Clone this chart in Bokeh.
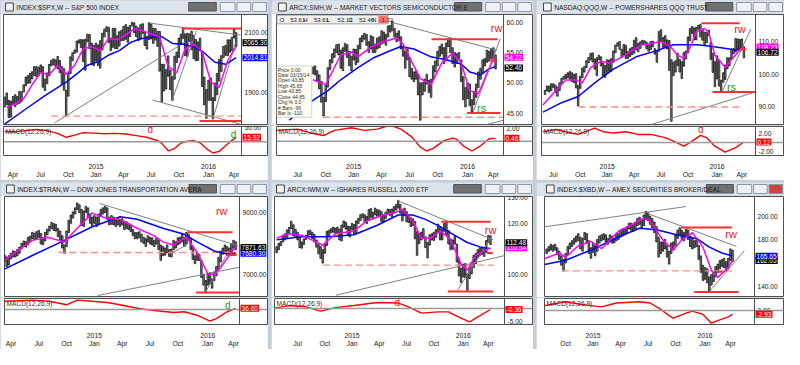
import pandas as pd
from bokeh.plotting import figure
from bokeh.layouts import column, row
from bokeh.models import Range1d, FixedTicker, Label, Span
from bokeh.core.properties import value
from bokeh.embed import file_html
from bokeh.resources import INLINE

FONT = "Liberation Sans"
BAR0 = pd.Timestamp("2014-03-28")   # date of weekly bar number 0

# ---------------- S&P 500 ($SPX) ----------------
spx_first = 0
spx_high = [1883,1897,1872,1869,1885,1891,1885,1902,1901,1924,
            1950,1955,1963,1968,1985,1985,1983,1991,1985,1943,
            1964,1993,2006,2011,2008,2019,2006,1985,1978,1906,
            1965,2018,2032,2041,2071,2075,2076,2075,2077,2094,
            2093,2064,2056,2064,2058,2072,2097,2111,2119,2117,
            2081,2114,2114,2089,2102,2107,2120,2126,2117,2123,
            2134,2132,2121,2115,2126,2129,2102,2086,2132,2128,
            2114,2113,2103,2103,1993,1993,1975,2021,1973,1951,
            2020,2034,2081,2094,2116,2095,2097,2095,2104,2090,
            2076,2068,2081,2038,1950,1908,1940,1947,1881,1930,
            1962,2009,2022,2053,2056,2075,2075,2084,2111,2099]
spx_low = [1850,1858,1814,1816,1858,1851,1859,1862,1868,1900,
           1921,1929,1930,1944,1955,1952,1955,1966,1916,1905,
           1928,1954,1988,1991,1985,1978,1965,1926,1906,1821,
           1886,1962,2005,2030,2034,2064,2049,2002,1973,2069,
           2046,1992,1988,2004,1989,1980,2041,2085,2103,2066,
           2039,2050,2046,2045,2054,2072,2073,2077,2067,2086,
           2122,2099,2085,2072,2077,2097,2056,2044,2076,2078,
           2063,2074,2053,1970,1867,1903,1910,1953,1908,1872,
           1943,1999,2016,2062,2080,2022,2019,2070,2042,2012,
           2005,2006,2043,1918,1857,1812,1872,1872,1810,1871,
           1891,1937,1969,2015,2023,2022,2033,2038,2081,2053]
spx_fast_wk = [1,5,9,13,17,21,25,29,33,37,41,45,49,53,57,61,65,69,73,77,81,85,89,93,97,101,105,109]
spx_fast = [1848,1860,1878,1925,1965,1958,1990,1960,1990,2045,2052,2038,2080,2075,2092,2112,2106,
            2095,2085,1985,1965,2045,2060,2035,1935,1915,2005,2052]
spx_slow_wk = [0,9,19,29,34,39,44,49,54,59,64,69,74,79,84,89,94,99,104,109]
spx_slow = [1792,1838,1888,1933,1961,1990,2002,2024,2039,2065,2079,2084,2086,2063,2060,2052,2031,2000,1993,2015]
spx_macd_wk = [0,5,10,15,20,25,29,33,37,42,47,52,57,62,67,72,74,77,80,83,86,89,92,95,98,101,104,107,109]
spx_macd = [37,36,40,44,40,30,16,24,33,31,29,30,28,22,16,4,-6,-33,-25,-5,2,4,-4,-25,-41,-35,-15,5,15.92]
spx_close, spx_slow_last, spx_macd_last = 2065.30, 2014.81, 15.92
spx_gray = [(23.5,1796,85,2068),(68.5,2131,111,2091),(69.6,1873,111,1792),(78.8,1871,90.3,2105),(98,1808,108.7,2066)]
spx_red = [(83.4,2113,111.5,2113),(91.7,1803,111.5,1803)]
spx_dash = [(22,1819,111.5,1819)]
spx_marks = []
spx_macd_marks = [(68.6,44,"d","#e81818"),(107.8,27,"d","#10a010")]

# ---------------- Semiconductor ETF (SMH) ----------------
smh_first = 13
smh_high = [50.5,51.0,50.8,51.6,51.5,50.8,49.6,50.6,51.2,51.6,
            52.4,52.6,52.8,52.0,51.3,50.2,47.6,49.6,52.5,53.8,
            54.8,55.6,56.3,56.4,55.4,55.8,56.5,56.3,55.2,54.4,
            55.6,55.5,56.2,57.4,57.8,58.2,58.0,56.8,57.8,57.6,
            56.4,57.4,57.6,58.6,58.4,58.0,59.4,59.5,60.2,59.0,
            58.2,58.6,57.6,56.0,55.2,55.6,54.2,52.4,51.8,52.0,
            51.4,50.0,50.0,50.6,51.4,50.4,50.6,52.8,53.6,55.2,
            56.0,56.4,55.8,56.6,57.2,57.4,55.8,55.0,54.8,55.0,
            53.8,51.0,49.2,50.0,49.8,47.2,48.6,49.8,51.8,52.4,
            53.8,54.0,55.4,55.2,55.6,55.8,54.6]
smh_low = [49.2,49.8,49.6,49.8,50.2,48.9,48.4,49.2,50.2,50.8,
           51.2,51.5,51.3,50.2,49.0,46.8,44.5,46.9,49.3,52.2,
           53.3,54.2,55.0,54.6,52.4,52.0,55.2,54.2,52.8,52.0,
           53.8,53.0,53.4,55.6,56.8,57.2,56.2,55.0,55.6,55.0,
           55.0,55.6,55.8,56.4,56.6,56.2,57.6,58.4,58.6,57.6,
           56.8,57.0,55.6,54.4,52.4,53.8,51.0,50.6,50.2,50.6,
           48.0,43.8,48.0,48.6,49.8,48.4,47.6,50.4,51.8,52.8,
           54.4,54.8,53.2,53.6,56.0,55.0,53.2,52.6,53.2,54.0,
           50.2,47.2,46.0,47.4,46.2,45.0,46.4,47.6,49.2,50.6,
           51.6,52.8,53.4,53.6,54.0,53.8,52.3]
smh_fast_wk = [24,30,37,42,45,51,56,63,66,70,74,79,84,89,93,97,101,104,107,109]
smh_fast = [50.5,49.7,54.6,55.1,54.3,55.9,56.7,57.4,56.4,53.5,50.7,49.7,53.3,54.9,53.3,48.7,48.2,50.7,53.2,54.22]
smh_slow_wk = [13,24,31,37,45,52,60,65,71,79,86,93,97,102,106,109]
smh_slow = [43.8,47.1,48.7,50.5,52.5,54.1,55.3,56.0,55.6,54.3,53.8,53.1,51.8,51.3,52.3,52.7]
smh_macd_wk = [7,17,23,29,34,42,48,54,60,65,70,74,77,80,85,89,91,94,98,102,106,109]
smh_macd = [1.7,1.9,1.3,0.9,1.7,2.1,1.7,1.9,2.5,1.9,0.7,-0.9,-1.5,-1.1,0.1,0.5,0.3,-0.7,-1.5,-0.7,0.4,0.46]
smh_close, smh_fast_last, smh_macd_last = 52.46, 54.22, 0.46
smh_gray = [(61.8,59.9,109.6,55.4),(98.5,45.1,111.2,57.3),(104,43.0,112.7,43.8)]
smh_red = [(79.2,57.2,110,57.2),(95.7,45.0,111.3,45.0),(106,53.7,109.6,53.7)]
smh_dash = [(28.6,44.3,112.7,44.3)]
smh_marks = [(109.5,59.1,"rw","#e81818"),(102.5,45.9,"rs","#10a010")]
smh_macd_marks = []

# ---------------- Nasdaq 100 (QQQ) ----------------
qqq_first = 13
qqq_high = [95.0,96.3,96.3,97.0,97.0,96.6,96.0,97.3,98.7,99.3,
            99.9,100.4,100.8,100.4,99.9,100.1,96.5,99.3,101.8,102.3,
            104.1,105.1,106.4,106.5,104.6,105.0,105.8,105.3,103.4,102.6,
            104.4,104.3,104.7,107.1,108.9,109.6,110.0,107.6,109.1,108.8,
            106.9,107.8,108.2,110.4,111.2,109.4,109.9,110.4,110.2,109.8,
            108.9,110.0,110.1,107.8,107.3,113.1,113.6,111.2,111.8,110.5,
            110.3,104.4,103.6,104.1,106.4,104.5,103.8,106.6,107.1,111.4,
            114.0,114.6,114.2,114.3,115.0,115.2,113.8,112.9,112.7,113.5,
            109.7,106.4,103.8,105.6,104.2,98.1,100.4,102.8,105.0,105.0,
            107.7,107.8,110.9,110.8,110.6,110.8,108.4]
qqq_low = [93.7,94.8,94.5,94.9,95.9,94.3,93.2,94.9,97.2,98.4,
           98.5,98.9,98.5,97.7,97.4,95.7,90.2,95.6,98.9,100.6,
           102.0,103.5,104.4,103.7,101.5,99.5,104.4,102.5,99.4,99.0,
           100.5,100.9,100.9,103.6,106.6,108.6,107.6,105.1,105.9,104.8,
           104.8,105.4,105.9,106.4,107.4,106.9,107.9,109.1,109.0,107.8,
           107.0,107.5,108.4,106.1,103.6,107.0,110.2,108.2,108.3,107.7,
           101.1,85.5,99.5,100.6,102.5,100.6,98.6,102.4,104.6,106.5,
           110.2,112.5,110.5,110.5,113.8,111.4,110.4,108.9,109.6,111.8,
           104.5,100.5,96.1,98.5,96.3,94.6,97.5,98.3,101.6,102.5,
           104.6,106.2,106.8,107.7,107.7,107.6,105.0]
qqq_fast_wk = [12,17,23,28,31,35,40,44,49,55,60,65,69,74,77,80,83,86,90,92,95,100,103,107,109]
qqq_fast = [90.5,94.0,98.2,98.2,97.3,102.0,103.9,103.4,104.8,107.2,109.0,109.5,110.0,108.1,105.8,104.8,
            108.1,113.0,114.0,112.8,105.8,102.0,104.4,107.4,108.23]
qqq_slow_wk = [12,21,29,37,46,57,67,75,86,92,98,105,109]
qqq_slow = [88.3,91.2,93.1,97.3,101.5,105.3,107.2,109.0,109.0,108.6,108.1,107.4,107.6]
qqq_macd_wk = [12,18,23,29,37,41,46,52,58,64,71,75,80,83,88,91,95,100,105,109]
qqq_macd = [2.4,2.9,2.4,1.8,3.2,2.4,2.1,2.4,1.8,1.8,1.1,0.3,-0.8,0.0,1.6,1.1,-0.8,-2.1,-1.1,0.12]
qqq_close, qqq_fast_last, qqq_macd_last = 106.72, 108.23, 0.12
qqq_gray = [(63.9,84.4,114.6,94.5),(98.4,94.5,112.3,113.8)]
qqq_red = [(88.4,115.6,106.9,115.6),(93.8,94.5,114.6,94.5),(107.1,107.6,110.2,107.6)]
qqq_dash = [(29.1,89.9,108.4,89.9)]
qqq_marks = [(107.1,113.8,"rw","#e81818"),(103,96,"rs","#10a010")]
qqq_macd_marks = [(88.2,2.9,"d","#e81818")]

# ---------------- Dow Jones Transportation ($TRAN) ----------------
tran_first = 1
tran_high = [7620,7560,7600,7680,7760,7740,7800,7880,8000,8080,
             8050,8200,8230,8360,8330,8380,8420,8320,8180,8360,
             8460,8560,8680,8640,8620,8480,8400,8250,7950,8400,
             8750,8920,9020,9150,9310,9250,9100,9050,9200,9150,
             8950,8850,8900,8850,8950,9100,9150,9200,9150,8850,
             8900,8850,8750,8820,8760,8800,8720,8700,8650,8600,
             8450,8350,8350,8380,8300,8200,8150,8250,8200,8180,
             8100,8180,8100,7950,7900,7850,7950,7800,7820,8100,
             8050,8180,8200,8300,8200,8350,8300,8180,7900,7600,
             7680,7650,7450,7000,6800,7000,7050,6850,7080,7250,
             7550,7750,7850,7950,7900,7850,7980,8100,8050]
tran_low = [7420,7250,7300,7500,7560,7560,7600,7680,7820,7900,
            7880,7950,8060,8150,8120,8150,8200,7980,7960,8080,
            8280,8400,8480,8420,8400,8220,8100,7850,7680,7900,
            8350,8650,8820,8950,9100,9000,8580,8550,9000,8850,
            8650,8550,8650,8550,8600,8900,8950,9000,8780,8600,
            8620,8600,8550,8600,8550,8600,8450,8480,8450,8380,
            8250,8150,8150,8180,8050,8000,7900,8050,7980,7950,
            7900,7980,7800,7450,7600,7620,7700,7580,7560,7800,
            7850,7950,8000,8050,7900,7980,8100,7800,7480,7350,
            7450,7450,6900,6650,6400,6650,6700,6550,6800,6950,
            7150,7400,7650,7700,7650,7600,7680,7850,7800]
tran_fast_wk = [1,14,21,29,35,42,48,55,63,71,75,80,86,91,96,99,102,106,109]
tran_fast = [7460,8098,8200,8050,8490,8980,8830,8780,8490,8245,8050,7950,8200,7706,7020,7000,7215,7608,7900]
tran_slow_wk = [1,14,29,42,55,63,75,85,91,99,105,109]
tran_slow = [7167,7608,8098,8539,8863,8784,8490,8294,8049,7755,7657,7680]
tran_macd_wk = [1,14,22,30,35,42,49,55,63,71,80,85,91,97,100,105,109]
tran_macd = [280,320,280,160,320,280,240,160,40,-40,-104,-80,-200,-400,-320,-80,36.6]
tran_close, tran_slow_last, tran_macd_last = 7871.63, 7680.30, 36.60
tran_gray = [(45.4,9294,110.2,7922),(44.6,6314,110.8,7230),(94.8,6412,106.3,7804),(79.4,7706,86.3,7951)]
tran_red = [(86.3,8363,107.6,8363),(90.5,6412,110.5,6412),(104.8,7627,109.5,7627)]
tran_dash = [(26.1,7706,109.5,7706)]
tran_marks = [(102.5,9038,"rw","#e81818")]
tran_macd_marks = [(105.3,128,"d","#10a010")]

# ---------------- Russell 2000 ETF (IWM) ----------------
iwm_first = 7
iwm_high = [111.0,112.2,113.0,115.5,116.0,117.5,118.5,120.9,119.5,117.8,
            116.6,114.6,112.8,114.0,115.4,117.2,117.4,116.6,115.8,113.6,
            111.8,111.0,109.8,112.0,117.0,117.4,118.0,118.6,118.2,118.6,
            117.8,119.4,121.0,120.5,119.0,118.8,120.0,119.6,121.0,122.0,
            123.4,123.8,123.4,122.8,125.4,125.8,124.4,126.0,125.4,125.2,
            124.6,123.4,124.4,125.6,125.4,125.6,126.6,127.4,129.0,127.4,
            125.4,126.0,124.6,123.2,122.2,121.8,120.8,116.8,116.0,116.6,
            118.0,114.8,112.6,115.6,116.0,116.6,117.6,119.8,118.4,117.8,
            120.0,120.6,117.2,114.0,113.6,115.0,112.0,106.4,102.6,104.2,
            104.4,100.4,102.6,104.8,107.6,108.4,109.8,110.6,110.8,110.6,
            113.4,115.3,115.2]
iwm_low = [108.6,109.8,111.4,112.8,113.6,114.6,116.2,118.0,115.2,114.6,
           113.6,110.6,110.4,111.8,113.8,115.2,115.6,114.2,112.8,110.8,
           108.2,106.4,104.6,108.4,111.4,115.0,116.4,116.6,116.0,116.2,
           113.6,113.2,118.6,117.8,115.2,114.8,117.6,115.8,116.4,120.0,
           121.2,122.2,120.6,120.0,121.4,122.4,122.0,123.4,122.8,122.6,
           120.8,120.6,122.0,123.8,123.2,122.6,124.0,125.2,126.0,124.0,
           121.0,123.0,120.6,120.4,118.8,119.2,114.0,107.6,112.2,113.6,
           114.6,110.6,106.6,111.6,113.6,113.4,114.6,116.6,113.6,113.6,
           117.0,115.6,112.0,109.8,110.0,112.0,105.0,99.6,97.0,99.2,
           99.0,94.0,98.6,100.4,102.8,104.4,106.8,107.6,108.0,107.2,
           108.8,112.6,111.8]
iwm_fast_wk = [7,13,19,25,29,35,44,50,58,64,67,72,76,81,85,90,95,98,102,107,109]
iwm_fast = [114.3,116.0,115.4,113.2,111.5,116.0,117.1,121.0,123.3,124.4,125.5,121.0,114.3,114.5,117.1,
            113.7,104.2,101.9,107.6,109.8,110.54]
iwm_slow_wk = [7,19,32,44,55,65,72,78,85,92,98,104,109]
iwm_slow = [113.7,114.8,114.8,115.6,119.3,123.3,123.3,121.6,118.8,115.4,112.6,110.9,110.2]
iwm_macd_wk = [6,13,21,28,35,44,55,65,70,76,84,89,95,99,102,109]
iwm_macd = [0.2,1.2,0.7,-1.0,0.4,1.2,2.4,2.2,0.7,-1.8,-1.3,-1.3,-3.8,-5.3,-3.8,-0.36]
iwm_close, iwm_fast_last, iwm_macd_last = 112.48, 110.54, -0.36
iwm_gray = [(64.6,128.9,110.2,113.7),(35.3,92.1,115.7,107.5),(93.2,93.9,109.6,114.8)]
iwm_red = [(85.5,120.7,109.1,120.7),(88.7,93.5,110.3,93.5),(107.3,108.5,110.1,108.5)]
iwm_dash = [(29.1,103.8,110.6,103.8)]
iwm_marks = [(109.1,117.3,"rw","#e81818")]
iwm_macd_marks = [(64.6,2.4,"d","#e81818")]

# ---------------- Securities Broker/Dealer ($XBD) ----------------
xbd_first = 21
xbd_high = [172,174,176,175,176,173,170,166,163,168,
            174,177,179,181,183,185,182,181,186,185,
            179,173,177,175,180,183,184,185,184,181,
            184,183,181,185,185,188,189,189,191,194,
            194,193,195,198,199,197,201,204,203,200,
            198,195,191,182,178,178,180,175,170,177,
            178,184,188,190,188,186,189,188,183,181,
            179,180,175,166,158,156,155,148,150,152,
            157,159,162,163,164,161,164,172,171]
xbd_low = [168,170,171,170,171,167,163,158,153,160,
           167,172,174,176,178,179,172,170,180,177,
           168,164,169,166,170,177,179,180,178,176,
           178,177,177,179,180,182,183,184,186,189,
           188,187,189,192,193,190,192,197,196,193,
           190,186,178,165,168,170,172,165,159,168,
           171,175,181,184,180,179,183,180,174,172,
           173,174,163,152,145,146,143,136,141,144,
           148,152,155,157,156,153,155,162,161]
xbd_fast_wk = [20,27,30,36,42,47,55,62,67,70,76,81,85,90,95,99,102,107,109]
xbd_fast = [163.6,168.5,164.8,174.7,178.4,172.2,187.1,193.3,198.3,195.8,179.7,171.0,179.7,185.9,173.5,
            153.7,147.5,156.1,162.3]
xbd_slow_wk = [20,30,42,55,65,73,84,92,98,104,109]
xbd_slow = [158.6,162.3,171.0,182.2,189.6,188.4,183.4,180.9,173.5,168.5,166.0]
xbd_macd_wk = [20,30,37,42,47,54,65,70,75,79,81,87,90,95,99,102,107,109]
xbd_macd = [3.9,6.9,4.9,3.9,2.9,5.9,6.9,5.9,1.0,-3.9,-5.9,-2.0,-0.4,-2.9,-9.8,-7.8,-4.9,-2.93]
xbd_close, xbd_slow_last, xbd_macd_last = 162.05, 165.65, -2.93
xbd_gray = [(19.7,190.8,86.9,208.2),(69.1,202.0,110.8,174.2),(98.4,136.3,114.6,170.5)]
xbd_red = [(84.6,190.3,108.7,190.3),(90.8,135.1,111.9,135.1),(102,152.4,104.3,152.4)]
xbd_dash = [(28.2,153.2,108.8,153.2)]
xbd_marks = [(108.3,185.1,"rw","#e81818")]
xbd_macd_marks = []

# SMH data-window overlay texts
smh_header = ["O", "53.61", "H", "53.61", "L", "52.13", "C", "52.46", "N"]
smh_header_chg = "-1.22"
smh_info = ["Price  0.00", "Date  03/15/14", "Open  43.85", "High  45.65", "Low  43.85",
            "Close  44.85", "Chg %  0.0", "# Bars  -96", "Bar Ix  -110"]

MAGENTA, BLUE, RED = "#ff00ff", "#0000ff", "#ff0000"

panels = [
    dict(title="INDEX:$SPX,W -- S&P 500 INDEX", first=spx_first, high=spx_high, low=spx_low,
         fx=spx_fast_wk, f=spx_fast, sx=spx_slow_wk, s=spx_slow, mx=spx_macd_wk, m=spx_macd,
         xr=(-0.5, 111.5), yr=(1791, 2160), yt=[1900, 2100], mr=(-50, 55), mt=[50],
         tags=[(spx_slow_last, BLUE), (spx_close, "black")], mtag=spx_macd_last,
         gray=spx_gray, red=spx_red, dash=spx_dash, marks=spx_marks, mmarks=spx_macd_marks),
    dict(title="ARCX:SMH,W -- MARKET VECTORS SEMICONDUCTOR E", first=smh_first, high=smh_high, low=smh_low,
         fx=smh_fast_wk, f=smh_fast, sx=smh_slow_wk, s=smh_slow, mx=smh_macd_wk, m=smh_macd,
         xr=(7.1, 112.7), yr=(43.1, 61.3), yt=[45, 50, 55, 60], mr=(-2.2, 2.3), mt=[2],
         tags=[(smh_fast_last, MAGENTA), (smh_close, "black")], mtag=smh_macd_last,
         gray=smh_gray, red=smh_red, dash=smh_dash, marks=smh_marks, mmarks=smh_macd_marks),
    dict(title="NASDAQ:QQQ,W -- POWERSHARES QQQ TRUST", first=qqq_first, high=qqq_high, low=qqq_low,
         fx=qqq_fast_wk, f=qqq_fast, sx=qqq_slow_wk, s=qqq_slow, mx=qqq_macd_wk, m=qqq_macd,
         xr=(11.3, 114.6), yr=(84.5, 118.3), yt=[90, 100, 110], mr=(-2.85, 3.55), mt=[-2, 2],
         tags=[(qqq_fast_last, MAGENTA), (qqq_close, "black")], mtag=qqq_macd_last,
         gray=qqq_gray, red=qqq_red, dash=qqq_dash, marks=qqq_marks, mmarks=qqq_macd_marks),
    dict(title="INDEX:$TRAN,W -- DOW JONES TRANSPORTATION AVERA", first=tran_first, high=tran_high, low=tran_low,
         fx=tran_fast_wk, f=tran_fast, sx=tran_slow_wk, s=tran_slow, mx=tran_macd_wk, m=tran_macd,
         xr=(1, 110.8), yr=(6282, 9518), yt=[7000, 9000], mr=(-520, 376), mt=[],
         tags=[(tran_slow_last, BLUE), (tran_close, "black")], mtag=tran_macd_last,
         gray=tran_gray, red=tran_red, dash=tran_dash, marks=tran_marks, mmarks=tran_macd_marks),
    dict(title="ARCX:IWM,W -- ISHARES RUSSELL 2000 ETF", first=iwm_first, high=iwm_high, low=iwm_low,
         fx=iwm_fast_wk, f=iwm_fast, sx=iwm_slow_wk, s=iwm_slow, mx=iwm_macd_wk, m=iwm_macd,
         xr=(6, 115.7), yr=(91.6, 130.5), yt=[100, 120, 130], mr=(-6.3, 4.0), mt=[-5],
         tags=[(iwm_fast_last, MAGENTA), (iwm_close, "black")], mtag=iwm_macd_last,
         gray=iwm_gray, red=iwm_red, dash=iwm_dash, marks=iwm_marks, mmarks=iwm_macd_marks),
    dict(title="INDEX:$XBD,W -- AMEX SECURITIES BROKER/DEAL", first=xbd_first, high=xbd_high, low=xbd_low,
         fx=xbd_fast_wk, f=xbd_fast, sx=xbd_slow_wk, s=xbd_slow, mx=xbd_macd_wk, m=xbd_macd,
         xr=(20, 119.4), yr=(131.3, 216.8), yt=[140, 180, 200], mr=(-10.8, 9.4), mt=[0],
         tags=[(xbd_close, "black"), (xbd_slow_last, BLUE)], mtag=xbd_macd_last,
         gray=xbd_gray, red=xbd_red, dash=xbd_dash, marks=xbd_marks, mmarks=xbd_macd_marks),
]

# window geometry: (width, left border, label-column width)
geom = [(268, 3, 26), (262, 5, 29), (248, 5, 28), (268, 4, 28), (262, 3, 28), (248, 8, 29)]
TOP_H = (13, 112, 55)
BOT_H = (13, 102, 52)
TITLE_BG = "#dde3ea"
TXT = "#202020"


def quarter_ticks(x0, x1):
    pos, lab = [], {}
    for d in pd.date_range("2014-01-01", "2016-10-01", freq="QS"):
        x = int(round((d - BAR0).days / 7 + 3.5))
        if x0 + 1.5 <= x <= x1 - 1.5:
            pos.append(x)
            lab[x] = f"{d.year}\nJan" if d.month == 1 else "\n" + d.strftime("%b")
    return pos, lab


def title_bar(text, w, active):
    p = figure(width=w, height=13, x_range=Range1d(0, w), y_range=Range1d(0, 13),
               toolbar_location=None, output_backend="svg", x_axis_location=None,
               y_axis_location=None, min_border=0)
    p.grid.visible = False
    p.outline_line_color = None
    p.background_fill_color = TITLE_BG
    p.border_fill_color = TITLE_BG
    p.quad(left=[2], right=[10], bottom=[2.5], top=[10.5], fill_color="#f4f4f4", line_color="#404040")
    p.quad(left=[w - 80], right=[w - 52], bottom=[2.5], top=[11], fill_color="#707070", line_color="#505050")
    for l, r, c in [(w - 48, w - 33, "#eef1f5"), (w - 31, w - 17, "#eef1f5"),
                    (w - 15, w - 1, "#c9463d" if active else "#eef1f5")]:
        p.quad(left=[l], right=[r], bottom=[2], top=[11], fill_color=c, line_color="#8a97a8")
    p.add_layout(Label(x=13, y=6.3, text=text, text_font=FONT, text_font_size="6.6px",
                       text_color="#1a1a1a", text_baseline="middle"))
    return p


def base_fig(w, h, xr, yr, bl, bottom):
    f = figure(width=w, height=h, x_range=xr, y_range=Range1d(*yr), toolbar_location=None,
               output_backend="svg", x_axis_location="below" if bottom else None,
               y_axis_location=None, min_border_left=bl, min_border_right=1,
               min_border_top=1, min_border_bottom=bottom if bottom else 1)
    f.grid.visible = False
    f.outline_line_color = "#505050"
    f.border_fill_color = "white"
    return f


def right_labels(f, x1, ticks, tags):
    # plot / label-column separator, tick labels and value tags in the label column
    f.add_layout(Span(location=x1, dimension="height", line_color="#505050", line_width=1))
    if ticks:
        f.text(x=[x1] * len(ticks), y=ticks, text=[f"{t:.2f}" for t in ticks], x_offset=3,
               text_font=value(FONT), text_font_size="6.6px", text_color=TXT, text_baseline="middle")
    for (v, c) in tags:
        f.add_layout(Label(x=x1, y=v, x_offset=1, text=f"{v:.2f}", text_color="white", text_font=FONT,
                           text_font_size="6.6px", text_baseline="middle", background_fill_color=c,
                           padding=1))


def window(cfg, g, hs, active=False):
    w, bl, col = g
    th, mh, hh = hs
    x0, x1 = cfg["xr"]
    plot_px = w - bl - 1 - col
    xe = x1 + (x1 - x0) * col / plot_px
    xr = Range1d(x0, xe)
    tb = title_bar(cfg["title"], w, active)

    p = base_fig(w, mh, xr, cfg["yr"], bl, 0)
    wk = list(range(cfg["first"], cfg["first"] + len(cfg["high"])))
    p.vbar(x=wk, top=cfg["high"], bottom=cfg["low"], width=0.72, fill_color="#858585",
           line_color="#0a0a0a", line_width=0.75)
    for seg in cfg["dash"]:
        p.segment(x0=[seg[0]], y0=[seg[1]], x1=[seg[2]], y1=[seg[3]], line_color="#ff8c8c",
                  line_width=1.4, line_dash="7 4")
    for seg in cfg["gray"]:
        p.segment(x0=[seg[0]], y0=[seg[1]], x1=[seg[2]], y1=[seg[3]], line_color="#808080", line_width=1)
    p.line(cfg["sx"], cfg["s"], line_color=BLUE, line_width=1.5)
    p.line(cfg["fx"], cfg["f"], line_color=MAGENTA, line_width=1.5)
    for seg in cfg["red"]:
        p.segment(x0=[seg[0]], y0=[seg[1]], x1=[seg[2]], y1=[seg[3]], line_color="#ff3030", line_width=2)
    for (x, y, t, c) in cfg["marks"]:
        p.text(x=[x], y=[y], text=[t], text_color=c, text_font=value(FONT), text_font_size="11px",
               text_align="center", text_baseline="middle")
    right_labels(p, x1, cfg["yt"], cfg["tags"])

    m = base_fig(w, hh, xr, cfg["mr"], bl, 17)
    m.add_layout(Span(location=0, dimension="width", line_color="#9a9a9a", line_width=1.5))
    m.line(cfg["mx"], cfg["m"], line_color=RED, line_width=1.4)
    for (x, y, t, c) in cfg["mmarks"]:
        m.text(x=[x], y=[y], text=[t], text_color=c, text_font=value(FONT), text_font_size="10px",
               text_align="center", text_baseline="middle")
    m.add_layout(Label(x=x0, y=cfg["mr"][1], x_offset=2, y_offset=-1, text="MACD(12,26,9)",
                       text_font=FONT, text_font_size="6.6px", text_color="#303030", text_baseline="top"))
    right_labels(m, x1, cfg["mt"], [(cfg["mtag"], RED)])
    pos, lab = quarter_ticks(x0, x1)
    ax = m.xaxis[0]
    ax.ticker = FixedTicker(ticks=pos)
    ax.major_label_overrides = lab
    ax.major_label_text_font = FONT
    ax.major_label_text_font_size = "6.8px"
    ax.major_label_text_color = TXT
    ax.axis_line_color = None
    ax.major_tick_line_color = None
    ax.minor_tick_line_color = None
    ax.major_label_standoff = 1
    return column(tb, p, m, spacing=0), p


wins = []
mains = []
for k, cfg in enumerate(panels):
    win, mp = window(cfg, geom[k], TOP_H if k < 3 else BOT_H, active=(k == 5))
    wins.append(win)
    mains.append(mp)

# SMH data-window overlay (header strip and info box)
sp = mains[1]
sp.quad(left=[7.3], right=[59], bottom=[59.75], top=[61.2], fill_color="#f0f0f0", line_color="#a0a0a0")
hx = [8.5, 13.5, 19.5, 24.5, 30.5, 35.5, 40.5, 45.5, 51.5]
sp.text(x=hx, y=[60.45] * len(hx), text=smh_header, text_font=value(FONT), text_font_size="6px",
        text_color=TXT, text_baseline="middle")
sp.quad(left=[54.5], right=[58.8], bottom=[59.85], top=[61.1], fill_color="#ff7070", line_color=None)
sp.text(x=[55], y=[60.45], text=[smh_header_chg], text_font=value(FONT), text_font_size="6px",
        text_color=TXT, text_baseline="middle")
sp.quad(left=[7.3], right=[23.5], bottom=[44.3], top=[52.8], fill_color="#fffdf2", line_color="#d0d0d0")
iy = [52.2 - 0.9 * k for k in range(len(smh_info))]
sp.text(x=[7.8] * len(smh_info), y=iy, text=smh_info, text_font=value(FONT), text_font_size="5px",
        text_color="#303030", text_baseline="middle")

top = row(wins[0], wins[1], wins[2], spacing=3)
bot = row(wins[3], wins[4], wins[5], spacing=3)
root = column(top, bot, spacing=2, styles={"background-color": "#c3cedb"})

open("out.html", "w").write(file_html(root, INLINE))
